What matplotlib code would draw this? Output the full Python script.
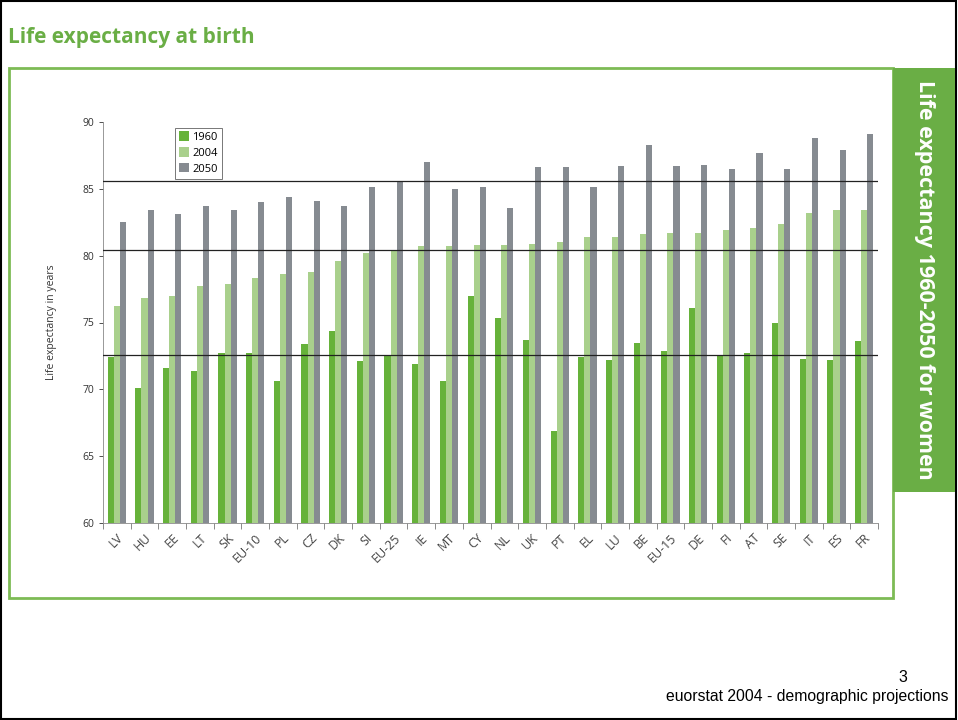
import numpy as np
import matplotlib
matplotlib.use("Agg")
import matplotlib.pyplot as plt
from matplotlib.patches import Rectangle

# data (EU-25 values are also used for the reference lines)
countries = ["LV", "HU", "EE", "LT", "SK", "EU-10", "PL", "CZ", "DK", "SI",
             "EU-25", "IE", "MT", "CY", "NL", "UK", "PT", "EL", "LU", "BE",
             "EU-15", "DE", "FI", "AT", "SE", "IT", "ES", "FR"]
le_1960 = [72.4, 70.1, 71.6, 71.4, 72.7, 72.7, 70.6, 73.4, 74.4, 72.1,
           72.6, 71.9, 70.6, 77.0, 75.3, 73.7, 66.9, 72.4, 72.2, 73.5,
           72.9, 76.1, 72.5, 72.7, 75.0, 72.3, 72.2, 73.6]
le_2004 = [76.2, 76.8, 77.0, 77.7, 77.9, 78.3, 78.6, 78.8, 79.6, 80.2,
           80.4, 80.7, 80.7, 80.8, 80.8, 80.9, 81.0, 81.4, 81.4, 81.6,
           81.7, 81.7, 81.9, 82.1, 82.4, 83.2, 83.4, 83.4]
le_2050 = [82.5, 83.4, 83.1, 83.7, 83.4, 84.0, 84.4, 84.1, 83.7, 85.1,
           85.6, 87.0, 85.0, 85.1, 83.6, 86.6, 86.6, 85.1, 86.7, 88.3,
           86.7, 86.8, 86.5, 87.7, 86.5, 88.8, 87.9, 89.1]
years = ["1960", "2004", "2050"]
eu25 = countries.index("EU-25")

GREEN = "#66b23a"
LIGHT = "#a9d08c"
GREY = "#868b91"
FRAME = "#7dbb55"
BANNER = "#6aae45"

W, H = 958, 720
fig = plt.figure(figsize=(W / 100, H / 100), dpi=100)


def fx(px):
    return px / W


def fy(py):
    return 1 - py / H


# outer slide border
fig.patches.append(Rectangle((0.001, 0.002), 0.997, 0.996, transform=fig.transFigure,
                             fill=False, edgecolor="black", linewidth=1.5))

# title
fig.text(fx(8), fy(38), "Life expectancy at birth", color=BANNER,
         fontsize=15, fontweight="bold", family="Open Sans", va="center", ha="left")

# green frame around chart
fig.patches.append(Rectangle((fx(9), fy(598)), fx(893 - 9), (598 - 68) / H,
                             transform=fig.transFigure, fill=False,
                             edgecolor=FRAME, linewidth=2))
# vertical banner
fig.patches.append(Rectangle((fx(893), fy(492)), fx(955 - 893), (492 - 68) / H,
                             transform=fig.transFigure, facecolor=BANNER,
                             edgecolor="none"))
fig.text(fx(924), fy(280), "Life expectancy 1960-2050 for women", color="white",
         fontsize=15.5, fontweight="bold", family="Open Sans", rotation=-90,
         ha="center", va="center")

# footer
fig.text(fx(903), fy(677), "3", fontsize=11.5, family="Liberation Sans",
         ha="center", va="center")
fig.text(fx(948), fy(697), "euorstat 2004 - demographic projections", fontsize=11.3,
         family="Liberation Sans", ha="right", va="center")

ax = fig.add_axes([fx(103), fy(523), fx(878 - 103), (523 - 122) / H])
x = np.arange(len(countries))
bw = 0.22
ax.bar(x - bw, le_1960, bw, color=GREEN, label=years[0], zorder=2)
ax.bar(x, le_2004, bw, color=LIGHT, label=years[1], zorder=2)
ax.bar(x + bw, le_2050, bw, color=GREY, label=years[2], zorder=2)

for v in (le_1960[eu25], le_2004[eu25], le_2050[eu25]):
    ax.axhline(v, color="#222222", linewidth=0.9, zorder=3)

ax.set_ylim(60, 90)
ax.set_xlim(-0.5, len(countries) - 0.5)
ax.set_yticks([60, 65, 70, 75, 80, 85, 90])
ax.tick_params(axis="y", labelsize=7.5, colors="#333333", length=3, width=0.6)
ax.set_xticks(x)
ax.set_xticklabels(countries, rotation=45, ha="right", rotation_mode="anchor",
                   fontsize=9, color="#444444", family="Open Sans")
ax.tick_params(axis="x", length=0, pad=6)
ax.set_xticks(np.arange(-0.5, len(countries)), minor=True)
ax.tick_params(axis="x", which="minor", length=4, width=0.6, color="#777777")
for s in ("top", "right"):
    ax.spines[s].set_visible(False)
for s in ("left", "bottom"):
    ax.spines[s].set_color("#888888")
    ax.spines[s].set_linewidth(0.6)
for lbl in ax.get_yticklabels():
    lbl.set_family("Open Sans")

ax.set_ylabel("Life expectancy in years", fontsize=7.5, family="Open Sans",
              color="#333333", labelpad=18)

leg = ax.legend(loc="upper left", bbox_to_anchor=(0.086, 1.0),
                frameon=True, fancybox=False, handlelength=0.9, handleheight=0.9,
                handletextpad=0.3, borderpad=0.35, labelspacing=0.4,
                prop={"family": "Open Sans", "size": 8})
leg.get_frame().set_edgecolor("#555555")
leg.get_frame().set_linewidth(0.7)

fig.savefig("out.png", dpi=100)
